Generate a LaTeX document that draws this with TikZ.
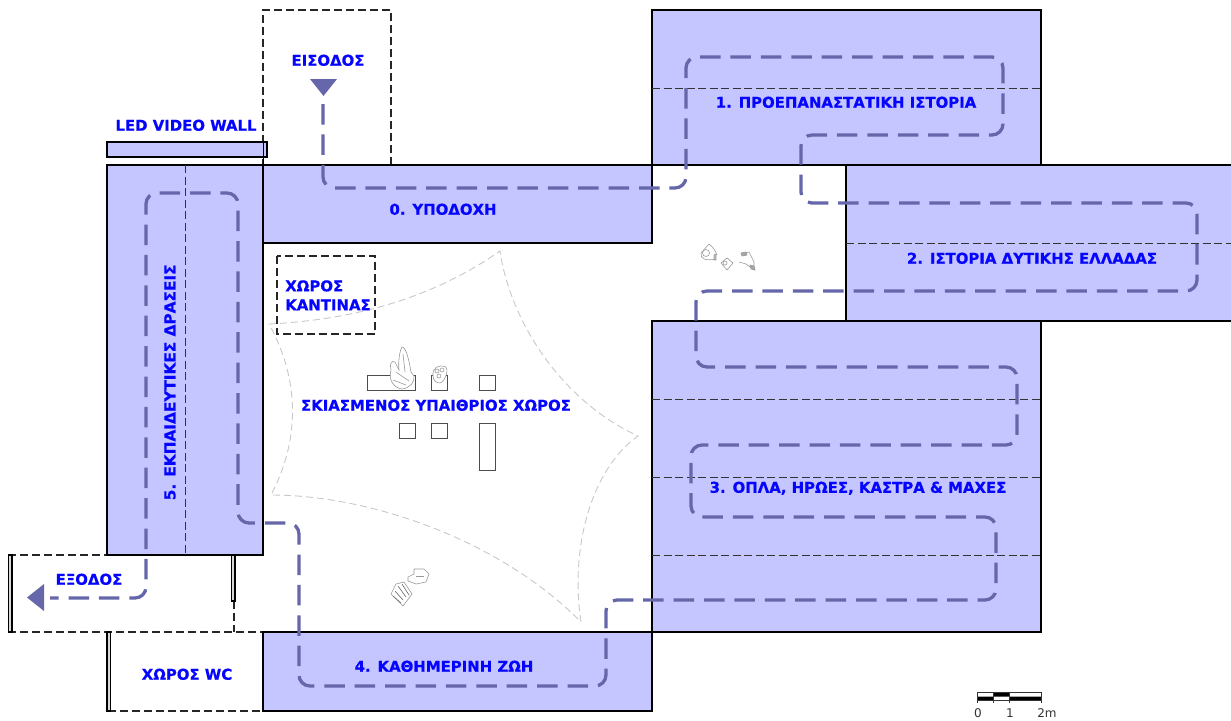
\documentclass[tikz,border=0pt]{standalone}
\usepackage{fontspec}
\setmainfont{DejaVu Sans}
\newfontfamily\lblfont[FakeBold=0.7]{DejaVu Sans Bold}
\definecolor{room}{HTML}{C5C5FF}
\definecolor{route}{HTML}{6666AA}
\definecolor{lab}{HTML}{0505FF}
\definecolor{tent}{HTML}{C8C8C8}
\tikzset{
  x=1pt,y=-1pt,
  roombox/.style={fill=room,draw=black,line width=2pt},
  divider/.style={draw=black!80,line width=1pt,dash pattern=on 8pt off 3.5pt},
  dashbox/.style={draw=black!85,line width=1.1pt,dash pattern=on 8pt off 4pt},
  wallbar/.style={fill=white!85!black,draw=black,line width=1.2pt},
  tbl/.style={draw=black!70,line width=1pt,fill=none},
  routeline/.style={draw=route,line width=3.3pt,rounded corners=11pt,dash pattern=on 20.5pt off 9.9pt},
  tip/.style={fill=route,draw=none},
  lbl/.style={text=lab,font=\lblfont\fontsize{14.9}{19}\selectfont,inner sep=0pt,align=center,yshift=-0.3pt},
  sk/.style={draw=black!40,line width=0.6pt,fill=white},
  tentline/.style={draw=tent,line width=0.9pt,dash pattern=on 7pt off 4pt},
  scalenum/.style={inner sep=0pt,font=\fontsize{12}{14}\selectfont,text=black!80},
}
\begin{document}
\begin{tikzpicture}
\useasboundingbox (0,0) rectangle (1231,720);
% dashed annexes
\draw[dashbox] (391,165) -- (391,10) -- (263,10) -- (263,165);
\draw[dashbox] (8,555) -- (107,555);
\draw[dashbox] (8,632) -- (263,632);
\draw[dashbox] (234,601) -- (234,632);
\draw[dashbox] (108,711) -- (263,711);
\draw[dashbox] (277,256) rectangle (375,334);
% rooms
\draw[roombox] (652,10) rectangle (1041,165);
\draw[roombox] (846,165) rectangle (1240,321);
\draw[roombox] (652,321) rectangle (1041,632);
\draw[roombox] (263,165) rectangle (652,243);
\draw[roombox] (107,165) rectangle (263,555);
\draw[roombox] (263,632) rectangle (652,711);
\draw[roombox] (107,142) rectangle (267,157);
\draw[draw=black,line width=0.8pt] (263,142) -- (263,165);
% dividers
\draw[divider] (652,88) -- (1041,88);
\draw[divider] (846,243) -- (1231,243);
\draw[divider] (652,399) -- (1041,399);
\draw[divider] (652,477) -- (1041,477);
\draw[divider] (652,555) -- (1041,555);
\draw[divider] (185,165) -- (185,555);
% walls
\draw[wallbar] (8.5,555) rectangle (12,632);
\draw[wallbar] (231.5,555) rectangle (235,601);
\draw[wallbar] (107,632) rectangle (110.5,711);
% tent
\draw[tentline] (269,324) .. controls (350,320) and (430,300) .. (500,251)
  .. controls (510,320) and (560,400) .. (638,436)
  .. controls (590,470) and (570,550) .. (581,622)
  .. controls (500,540) and (370,495) .. (271,495)
  .. controls (300,440) and (300,380) .. (269,324) -- cycle;
% tables
\draw[tbl] (367,375) rectangle (415,390);
\draw[tbl] (431,375) rectangle (447,390);
\draw[tbl] (479,375) rectangle (495,390);
\draw[tbl] (399,423) rectangle (415,438);
\draw[tbl] (431,423) rectangle (447,438);
\draw[tbl] (479,423) rectangle (495,470);
% sketched figures: hands at the table
\draw[sk] (391,370) .. controls (389,364) and (392,360) .. (395,362) -- (399,370) .. controls (398,360) and (400,350) .. (402,347) .. controls (406,347) and (409,360) .. (411,372) -- (414,376) .. controls (415,382) and (410,388) .. (402,389) .. controls (394,388) and (388,380) .. (391,370) -- cycle;
\draw[sk] (396,372) -- (409,381) (393,380) -- (406,385) (403,354) -- (405,372);
\draw[sk] (433,376) .. controls (432,368) and (438,364) .. (446,367) .. controls (449,372) and (444,382) .. (440,383) .. controls (436,383) and (433,380) .. (433,376) -- cycle;
\draw[sk] (437,371) circle (2) (442,370) circle (2) (439,376) circle (2);
% figures in the courtyard corner
\draw[sk] (709,244) -- (701,253) .. controls (700,259) and (706,261) .. (716,259) (709,244) .. controls (713,247) and (715,250) .. (717,255);
\draw[sk] (706,253) circle (3.5);
\draw[sk,fill=black!25] (714,255) -- (716,254) -- (716,260) -- (714,260) -- cycle;
\draw[sk] (721,263) -- (727,258) -- (733,263) -- (727,270) -- cycle;
\draw[sk] (725,263) circle (2);
\draw[sk] (741,254) -- (749,252) -- (754,262) -- (754,270) -- (746,264) -- (739,262);
\draw[sk,fill=black!35] (741,253) -- (746,252) -- (747,255) -- (742,256) -- cycle (750,265) -- (754,266) -- (755,270) -- (751,269) -- cycle;
% figures near the exit
\draw[sk] (391,594) -- (396,584) -- (404,582) -- (412,594) -- (403,606) -- cycle;
\draw[sk,draw=black!60] (395,591) -- (403,600) (398,586) -- (406,597) (402,584) -- (409,595) (393,596) -- (401,603);
\draw[sk] (408,577) -- (414,574) -- (414,569) -- (424,569) -- (429,574) -- (426,582) -- (416,584) -- (408,581) -- cycle;
\draw[sk] (416,576) -- (424,576);
% route
\draw[routeline] (323,104) -- (323,188) -- (686,188) -- (686,57) -- (1003,57) -- (1003,135) -- (801,135) -- (801,203) -- (1197,203) -- (1197,291) -- (696,291) -- (696,367) -- (1017,367) -- (1017,445) -- (691,445) -- (691,517) -- (996,517) -- (996,600) -- (606,600) -- (606,686) -- (299,686) -- (299,523) -- (238,523) -- (238,193) -- (146,193) -- (146,598) -- (50,598);
\fill[tip] (310,79) -- (337,79) -- (323.5,96) -- cycle;
\fill[tip] (44,584) -- (44,611) -- (27,597.5) -- cycle;
% labels
\node[lbl] (entry) at (328,60) {ΕΙΣΟΔΟΣ};
\node[lbl] (exit) at (89,579) {ΕΞΟΔΟΣ};
\node[lbl] (led) at (186,125) {LED VIDEO WALL};
\node[lbl] (r0) at (443,209) {0. ΥΠΟΔΟΧΗ};
\node[lbl] (r1) at (846,102) {1. ΠΡΟΕΠΑΝΑΣΤΑΤΙΚΗ ΙΣΤΟΡΙΑ};
\node[lbl] (r2) at (1032,258) {2. ΙΣΤΟΡΙΑ ΔΥΤΙΚΗΣ ΕΛΛΑΔΑΣ};
\node[lbl] (r3) at (858,488) {3. ΟΠΛΑ, ΗΡΩΕΣ, ΚΑΣΤΡΑ \& ΜΑΧΕΣ};
\node[lbl] (r4) at (444,666) {4. ΚΑΘΗΜΕΡΙΝΗ ΖΩΗ};
\node[lbl,rotate=90,font=\lblfont\fontsize{15.3}{19}\selectfont] (r5) at (170,382) {5. ΕΚΠΑΙΔΕΥΤΙΚΕΣ ΔΡΑΣΕΙΣ};
\node[lbl] (wc) at (187,674) {ΧΩΡΟΣ WC};
\node[lbl,align=left] (cant) at (328,295) {ΧΩΡΟΣ\\ΚΑΝΤΙΝΑΣ};
\node[lbl] (shade) at (436,405) {ΣΚΙΑΣΜΕΝΟΣ ΥΠΑΙΘΡΙΟΣ ΧΩΡΟΣ};
% scale bar
\fill[black] (977,696.5) rectangle (993,700.5) (993,692.5) rectangle (1009,696.5) (1009,696.5) rectangle (1041,700.5);
\draw[draw=black!80,line width=0.9pt] (977,692.5) rectangle (1041,700.5);
\draw[draw=black!80,line width=0.9pt] (977,700) -- (977,703) (993,692.5) -- (993,703) (1009,692.5) -- (1009,703) (1041,700) -- (1041,703);
\node[scalenum] (s0) at (978,713) {0};
\node[scalenum] (s1) at (1010,713) {1};
\node[scalenum] (s2) at (1047,713) {2m};
\end{tikzpicture}
\end{document}
